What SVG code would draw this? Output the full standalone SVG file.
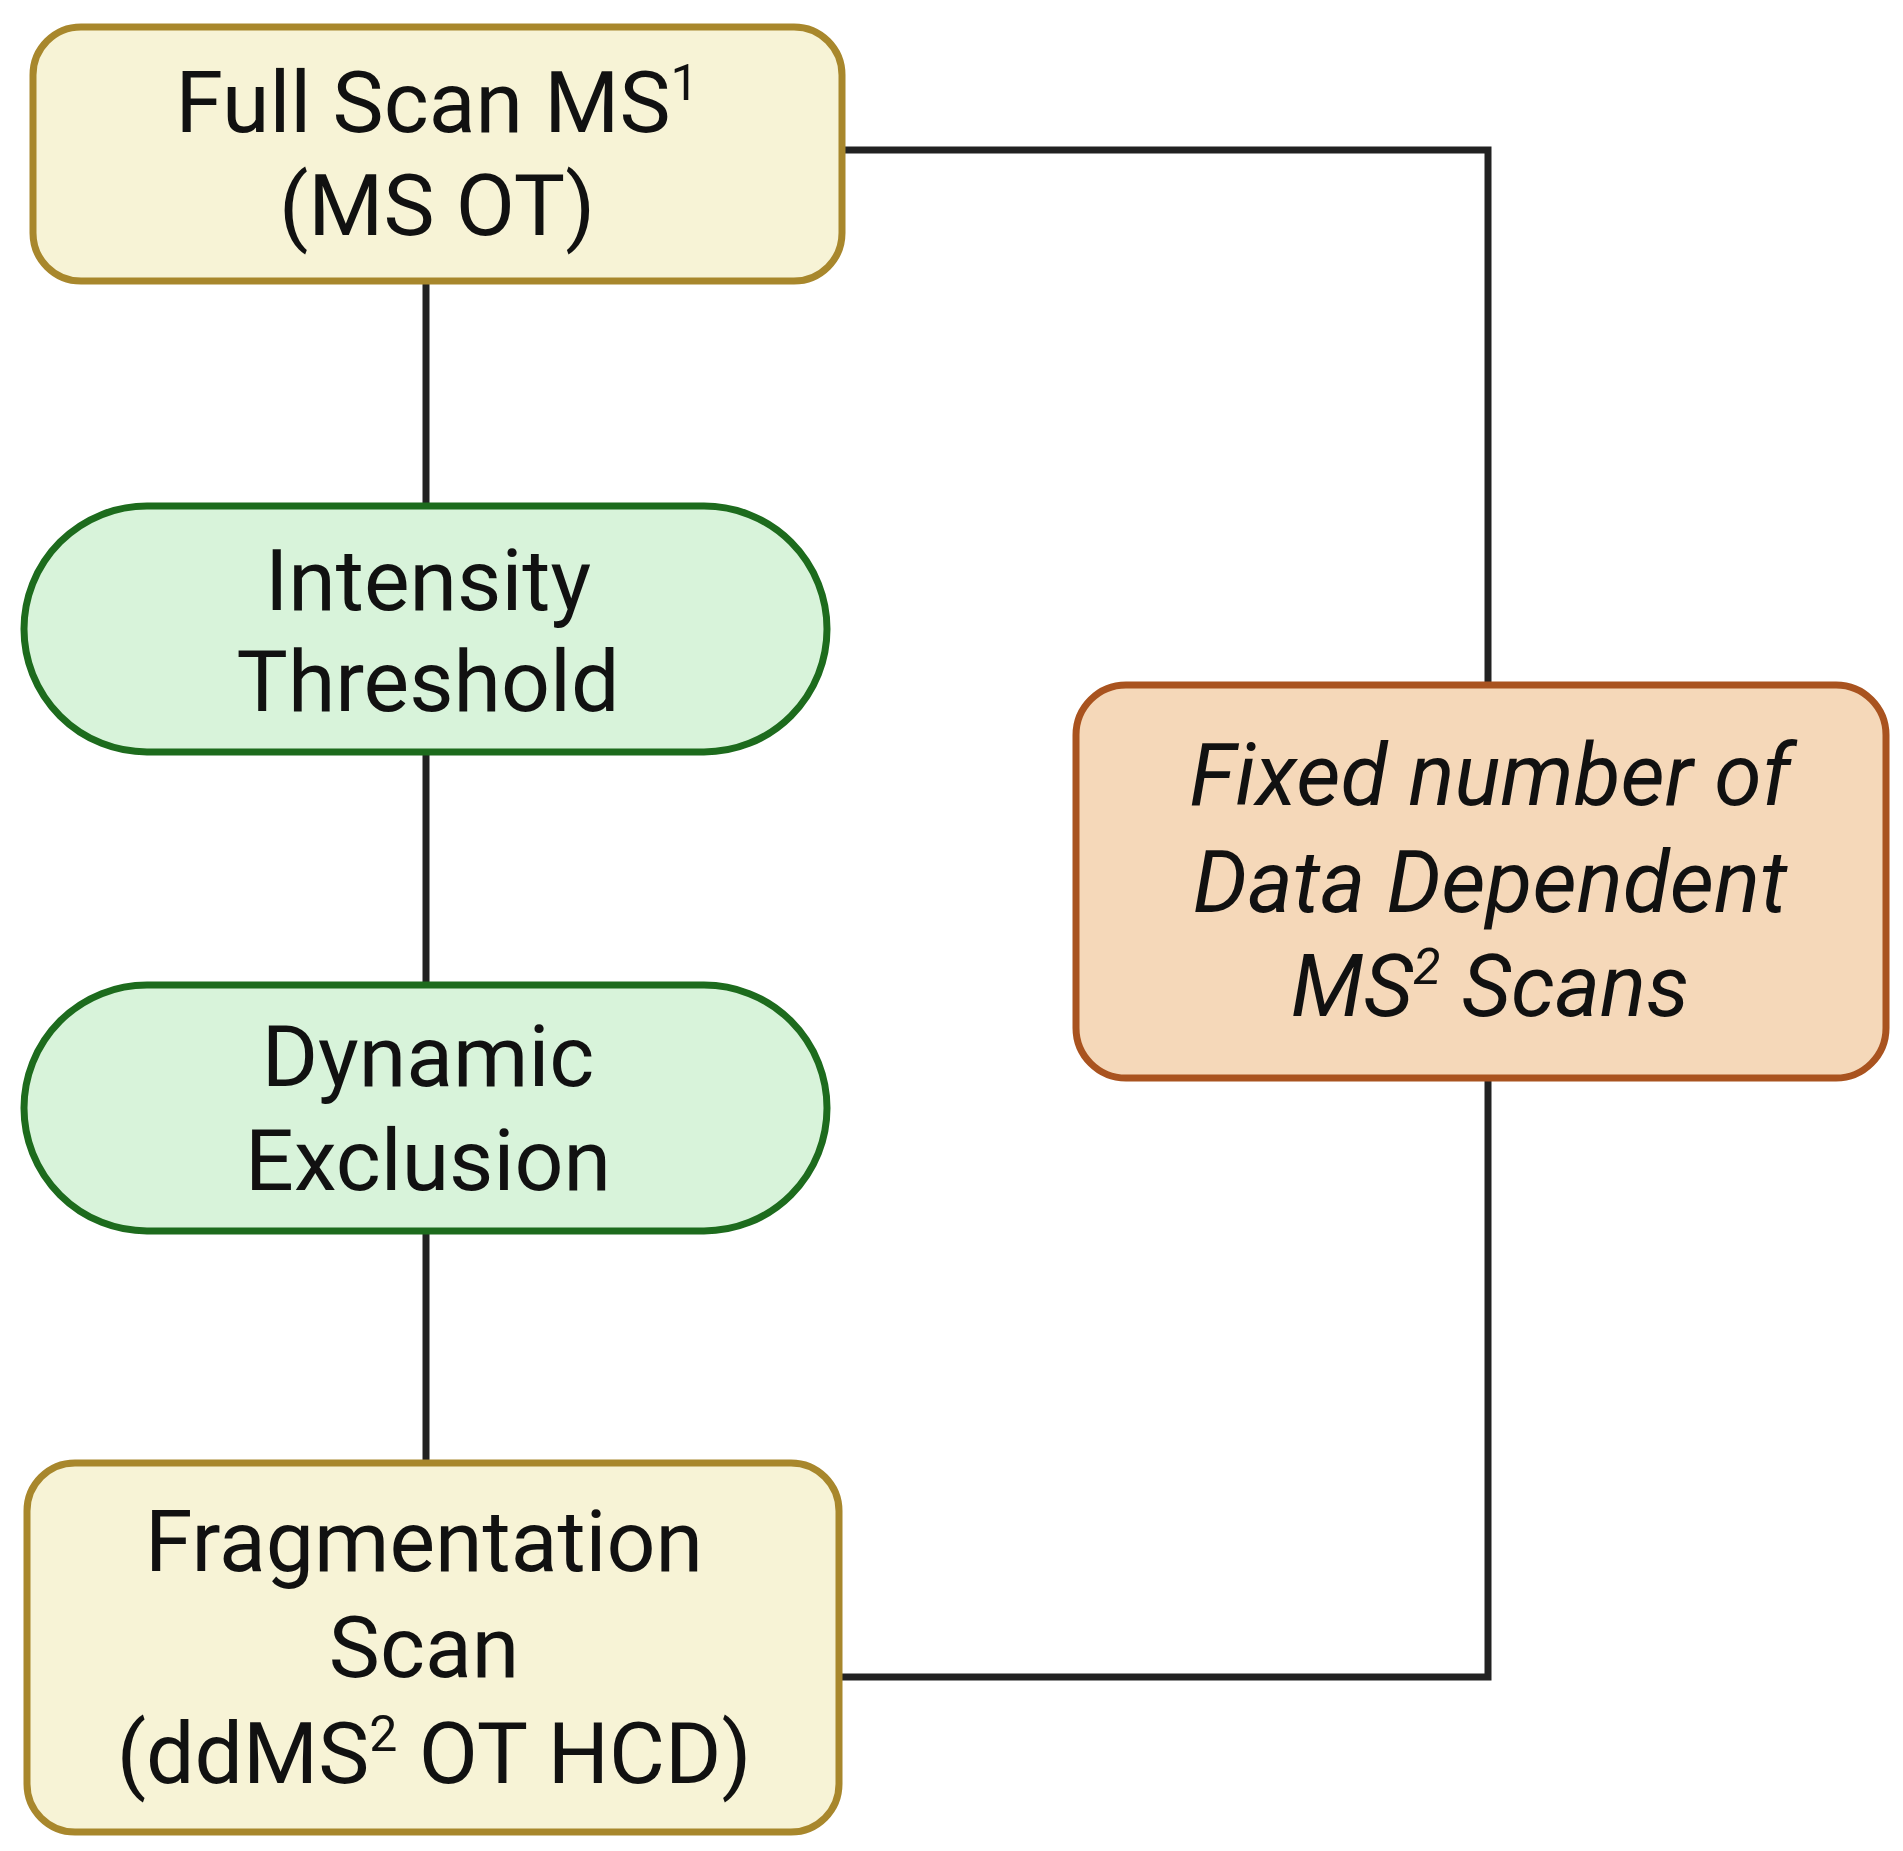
<svg xmlns="http://www.w3.org/2000/svg" width="1903" height="1851" viewBox="0 0 1903 1851">
<style>
text{font-family:Roboto,"Liberation Sans",sans-serif;font-size:86px;fill:#111;text-anchor:middle}
.y{fill:#f7f3d6;stroke:#a8872c;stroke-width:7}
.g{fill:#d8f3da;stroke:#1d6b1d;stroke-width:7}
.o{fill:#f5d8b9;stroke:#a9531f;stroke-width:7}
.c{fill:none;stroke:#222;stroke-width:7}
.i{font-style:italic}
</style>
<rect width="1903" height="1851" fill="#fff"/>
<g id="connectors">
<path class="c" d="M426 281V506M426 752V985M426 1231V1463"/>
<path class="c" d="M842 150H1488V685M1488 1078V1677H839"/>
</g>
<g id="full-scan"><rect class="y" x="33" y="27" width="809" height="254" rx="48"/>
<text x="437" y="132">Full Scan MS<tspan font-size="50" dy="-32">1</tspan></text><text x="437" y="235">(MS OT)</text></g>
<g id="intensity"><rect class="g" x="24" y="506" width="803" height="246" rx="123"/>
<text x="428" y="610">Intensity</text><text x="428" y="711">Threshold</text></g>
<g id="dynamic"><rect class="g" x="24" y="985" width="803" height="246" rx="123"/>
<text x="428" y="1086">Dynamic</text><text x="428" y="1190">Exclusion</text></g>
<g id="fragmentation"><rect class="y" x="27" y="1463" width="812" height="369" rx="48"/>
<text x="424" y="1571">Fragmentation</text><text x="424" y="1677">Scan</text><text x="434" y="1783">(ddMS<tspan font-size="50" dy="-32">2</tspan><tspan dy="32"> OT HCD)</tspan></text></g>
<g id="fixed"><rect class="o" x="1076" y="685" width="810" height="393" rx="50"/>
<text class="i" x="1490" y="805">Fixed number of</text><text class="i" x="1490" y="912">Data Dependent</text><text class="i" x="1490" y="1016">MS<tspan font-size="50" dy="-32">2</tspan><tspan dy="32"> Scans</tspan></text></g>
</svg>
